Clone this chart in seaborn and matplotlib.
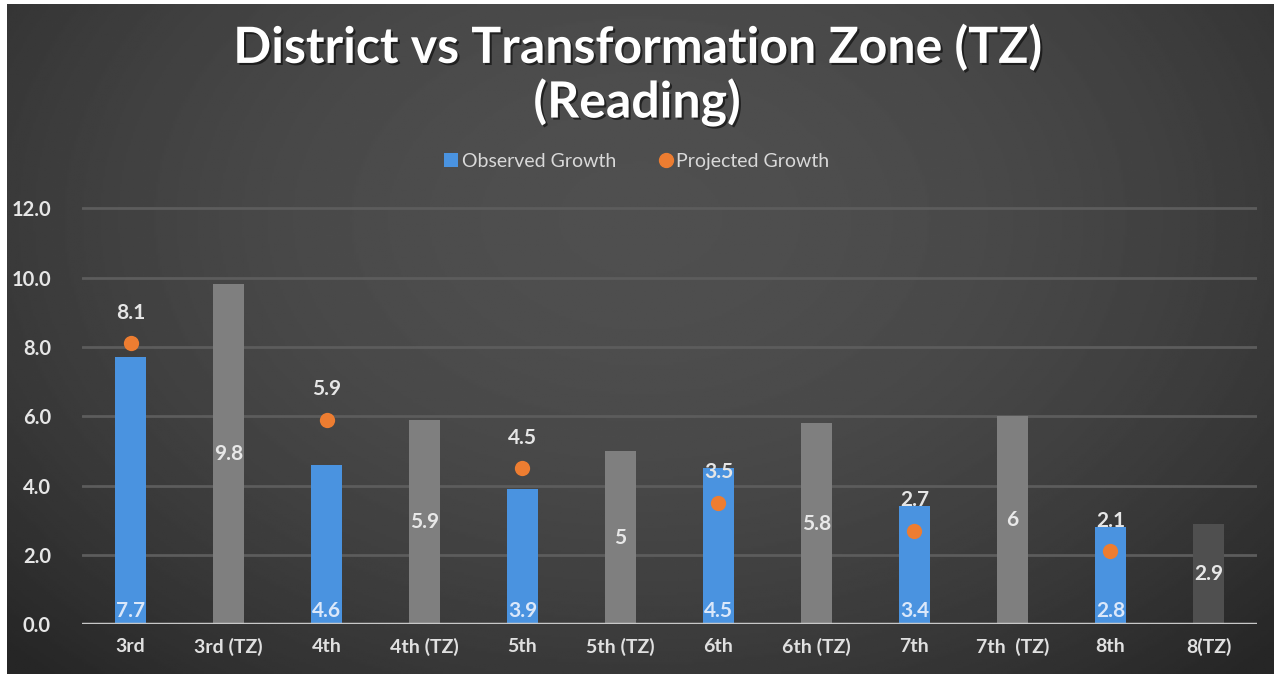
import matplotlib
matplotlib.use("Agg")
import matplotlib.pyplot as plt
import matplotlib.patheffects as pe
from matplotlib.lines import Line2D
from matplotlib.patches import Patch
import seaborn as sns
import numpy as np
import pandas as pd

# data
categories = ["3rd", "3rd (TZ)", "4th", "4th (TZ)", "5th", "5th (TZ)",
              "6th", "6th (TZ)", "7th", "7th  (TZ)", "8th", "8(TZ)"]
observed = [7.7, 9.8, 4.6, 5.9, 3.9, 5.0, 4.5, 5.8, 3.4, 6.0, 2.8, 2.9]
bar_labels = ["7.7", "9.8", "4.6", "5.9", "3.9", "5", "4.5", "5.8", "3.4", "6", "2.8", "2.9"]
projected_cats = ["3rd", "4th", "5th", "6th", "7th", "8th"]
projected = [8.1, 5.9, 4.5, 3.5, 2.7, 2.1]

blue = "#4a93e0"
grey = "#7f7f7f"
dark_grey = "#4f4f4f"
orange = "#ed7d31"
bar_colors = [blue if "TZ" not in c else grey for c in categories]
bar_colors[-1] = dark_grey

sns.set_style("dark")
plt.rcParams["font.family"] = ["Lato", "DejaVu Sans"]

fig = plt.figure(figsize=(12.74, 6.77), dpi=100, facecolor="white")

# dark radial background (screenshot has a thin white edge on the left/top/bottom)
W, H = 1274, 677
bg = fig.add_axes([7 / W, 3 / H, 1 - 7 / W, 1 - 7 / H], zorder=-10)
yy, xx = np.mgrid[0:1:300j, 0:1:600j]
r2 = ((xx - 0.5) / 0.72) ** 2 + ((yy - 0.32) / 0.95) ** 2
shade = np.clip(0.31 - 0.17 * r2, 0.15, 0.31)
bg.imshow(shade, cmap="gray", vmin=0, vmax=1, aspect="auto", extent=[0, 1, 0, 1], origin="upper")
bg.axis("off")

ax = fig.add_axes([0.064, 0.078, 0.923, 0.617])
ax.set_facecolor("none")

df = pd.DataFrame({"grade": categories, "growth": observed})
sns.barplot(data=df, x="grade", y="growth", hue="grade", palette=bar_colors,
            order=categories, width=0.31, legend=False, ax=ax, saturation=1,
            edgecolor="none", zorder=3)

pdf = pd.DataFrame({"grade": projected_cats, "growth": projected})
sns.stripplot(data=pdf, x="grade", y="growth", order=categories, jitter=False,
              color=orange, size=11, linewidth=0, ax=ax, zorder=5)

shadow = [pe.withSimplePatchShadow(offset=(1.5, -1.5), shadow_rgbFace="black", alpha=0.55)]

for i, (c, v, lab) in enumerate(zip(categories, observed, bar_labels)):
    if "TZ" in c:
        ax.text(i, v / 2, lab, ha="center", va="center", fontsize=15,
                color="#e8e8e8", fontweight="bold", zorder=6)
    else:
        ax.text(i, 0.38, lab, ha="center", va="center", fontsize=15,
                color="#dbe8fa", fontweight="bold", zorder=6)

for c, v in zip(projected_cats, projected):
    i = categories.index(c)
    ax.text(i, v + 0.88, f"{v:.1f}", ha="center", va="center", fontsize=15,
            color="#e6e6e6", fontweight="bold", zorder=6)

ax.set_ylim(0, 12.05)
ax.set_xlim(-0.5, len(categories) - 0.5)
ax.set_yticks(np.arange(0, 12.1, 2))
ax.set_yticklabels([f"{t:.1f}" for t in np.arange(0, 12.1, 2)])
ax.grid(axis="y", color="#5c5c5c", linewidth=2, zorder=0)
ax.grid(axis="x", visible=False)
ax.axhline(0, color="#c8c8c8", linewidth=2.5, zorder=4)
for s in ax.spines.values():
    s.set_visible(False)
ax.tick_params(axis="y", colors="#e6e6e6", labelsize=14.5, length=0, pad=22)
ax.tick_params(axis="x", colors="#e0e0e0", labelsize=14, length=0, pad=10)
for t in ax.get_xticklabels() + ax.get_yticklabels():
    t.set_fontweight("bold")
ax.set_xlabel("")
ax.set_ylabel("")

fig.text(0.5, 0.93, "District vs Transformation Zone (TZ)", ha="center", va="center",
         fontsize=36, fontweight="bold", color="white", path_effects=shadow)
fig.text(0.5, 0.849, "(Reading)", ha="center", va="center",
         fontsize=36, fontweight="bold", color="white", path_effects=shadow)

handles = [Patch(facecolor=blue, edgecolor="none", label="Observed Growth"),
           Line2D([], [], marker="o", linestyle="none", color=orange, markersize=10,
                  label="Projected Growth")]
fig.legend(handles=handles, loc="center", bbox_to_anchor=(0.5, 0.762), ncol=2,
           frameon=False, fontsize=14, labelcolor="#d9d9d9", handlelength=0.7,
           handletextpad=0.2, columnspacing=2.2)

fig.savefig("out.png", dpi=100, facecolor=fig.get_facecolor())
